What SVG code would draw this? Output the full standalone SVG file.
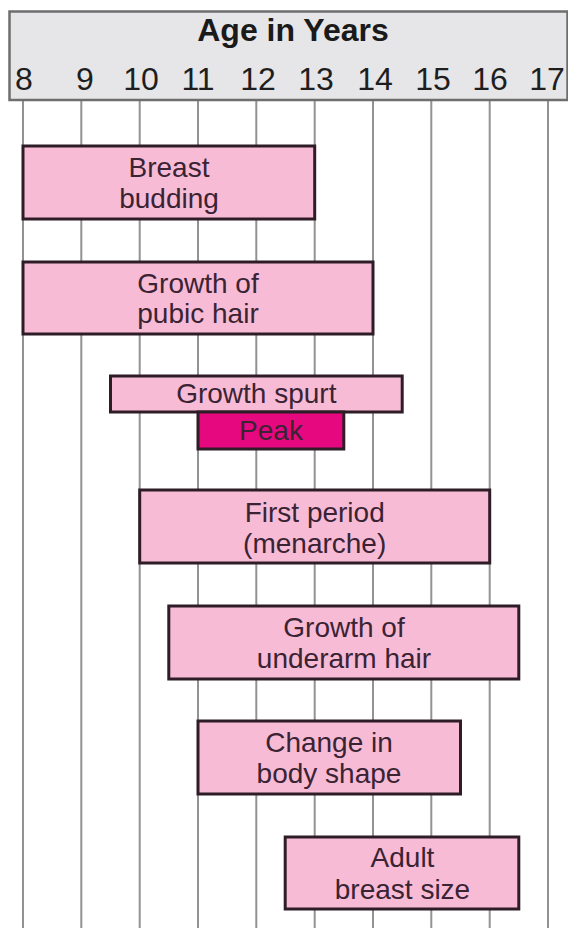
<svg xmlns="http://www.w3.org/2000/svg" width="568" height="928" viewBox="0 0 568 928">
  <style>
    .grid { stroke: #929292; stroke-width: 2; }
    .bar { fill: #f8bbd6; stroke: #2e1d27; stroke-width: 3; }
    .peak { fill: #e6087f; stroke: #2e1d27; stroke-width: 3; }
    .lbl { font-family: "Liberation Sans", Arial, sans-serif; font-size: 28px; fill: #3a2333; text-anchor: middle; }
    .num { font-family: "Liberation Sans", Arial, sans-serif; font-size: 32px; fill: #1e1e1e; text-anchor: middle; }
    .title { font-family: "Liberation Sans", Arial, sans-serif; font-size: 32px; font-weight: bold; fill: #1a1a1a; text-anchor: middle; }
  </style>
  <rect width="568" height="928" fill="#ffffff"/>
  <g id="grid">
    <line class="grid" x1="23" y1="100" x2="23" y2="928"/>
    <line class="grid" x1="81.3" y1="100" x2="81.3" y2="928"/>
    <line class="grid" x1="139.7" y1="100" x2="139.7" y2="928"/>
    <line class="grid" x1="198" y1="100" x2="198" y2="928"/>
    <line class="grid" x1="256.3" y1="100" x2="256.3" y2="928"/>
    <line class="grid" x1="314.7" y1="100" x2="314.7" y2="928"/>
    <line class="grid" x1="373" y1="100" x2="373" y2="928"/>
    <line class="grid" x1="431.3" y1="100" x2="431.3" y2="928"/>
    <line class="grid" x1="489.7" y1="100" x2="489.7" y2="928"/>
    <line class="grid" x1="548" y1="100" x2="548" y2="928"/>
  </g>
  <g id="header">
    <rect x="9.5" y="11.5" width="558" height="88.5" fill="#e6e6e8" stroke="#6e6e6e" stroke-width="2.5"/>
    <text class="title" x="293" y="41">Age in Years</text>
    <text class="num" x="24" y="90">8</text>
    <text class="num" x="85" y="90">9</text>
    <text class="num" x="141" y="90">10</text>
    <text class="num" x="198" y="90">11</text>
    <text class="num" x="258" y="90">12</text>
    <text class="num" x="316" y="90">13</text>
    <text class="num" x="375" y="90">14</text>
    <text class="num" x="433" y="90">15</text>
    <text class="num" x="490" y="90">16</text>
    <text class="num" x="547" y="90">17</text>
  </g>
  <g id="breast-budding">
    <rect class="bar" x="23" y="146" width="291.7" height="73"/>
    <text class="lbl" x="169" y="177">Breast</text>
    <text class="lbl" x="169" y="208">budding</text>
  </g>
  <g id="pubic-hair">
    <rect class="bar" x="23" y="262" width="350" height="72"/>
    <text class="lbl" x="198" y="293">Growth of</text>
    <text class="lbl" x="198" y="323">pubic hair</text>
  </g>
  <g id="growth-spurt">
    <rect class="bar" x="110.5" y="376" width="291.7" height="36"/>
    <text class="lbl" x="256.3" y="403">Growth spurt</text>
  </g>
  <g id="peak">
    <rect class="peak" x="198" y="412" width="145.8" height="37"/>
    <text class="lbl" x="271" y="440">Peak</text>
  </g>
  <g id="first-period">
    <rect class="bar" x="139.7" y="490" width="350" height="73"/>
    <text class="lbl" x="314.7" y="522">First period</text>
    <text class="lbl" x="314.7" y="553">(menarche)</text>
  </g>
  <g id="underarm-hair">
    <rect class="bar" x="168.8" y="606" width="350" height="73"/>
    <text class="lbl" x="344" y="637">Growth of</text>
    <text class="lbl" x="344" y="668">underarm hair</text>
  </g>
  <g id="body-shape">
    <rect class="bar" x="198" y="721" width="262.5" height="73"/>
    <text class="lbl" x="329" y="752">Change in</text>
    <text class="lbl" x="329" y="783">body shape</text>
  </g>
  <g id="adult-breast-size">
    <rect class="bar" x="285.2" y="837" width="233.6" height="72"/>
    <text class="lbl" x="402.5" y="867">Adult</text>
    <text class="lbl" x="402.5" y="899">breast size</text>
  </g>
</svg>
